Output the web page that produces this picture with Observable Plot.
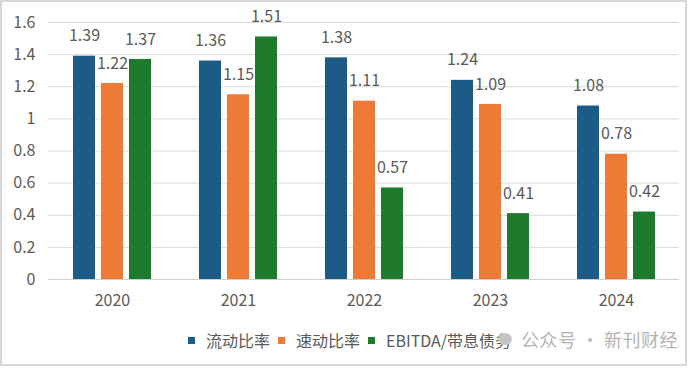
<!DOCTYPE html>
<html>
<head>
<meta charset="utf-8">
<script src="https://cdn.jsdelivr.net/npm/d3@7"></script>
<script src="https://cdn.jsdelivr.net/npm/@observablehq/plot@0.6"></script>
<style>
  html, body { margin: 0; padding: 0; background: #fff; }
  #wrap { position: relative; width: 700px; height: 368px; overflow: hidden; font-family: "Noto Sans CJK SC", "Noto Sans", sans-serif; }
  #frame { position: absolute; left: 0; top: 0; width: 687px; height: 366px; box-sizing: border-box; border: 2px solid #d6d6d6; pointer-events: none; }
  .layer { position: absolute; left: 0; top: 0; }
  #legend { position: absolute; left: 188px; top: 328px; display: flex; align-items: center; font-size: 16px; color: #595959; white-space: nowrap; }
  #legend .sw { width: 7px; height: 7px; display: inline-block; margin-right: 11px; }
  #legend .it { display: flex; align-items: center; margin-right: 8px; }
  #wm { position: absolute; left: 498px; top: 326px; font-size: 18px; letter-spacing: 0.5px; color: #b4b4b4; display: flex; align-items: center; white-space: nowrap; }
  #wm .ic { width: 14px; height: 12px; border-radius: 50%; background: #c4c4c4; display: inline-block; margin-right: 9px; }
</style>
</head>
<body>
<div id="wrap">
  <div id="bg" class="layer"></div>
  <div id="fg" class="layer"></div>
  <div id="legend"></div>
  <div id="wm"><span class="ic"></span>公众号 · 新刊财经</div>
  <div id="frame"></div>
</div>
<script>
const years = ["2020", "2021", "2022", "2023", "2024"];
const seriesNames = ["流动比率", "速动比率", "EBITDA/带息债务"];
const currentRatio = [1.39, 1.36, 1.38, 1.24, 1.08];
const quickRatio = [1.22, 1.15, 1.11, 1.09, 0.78];
const ebitdaDebt = [1.37, 1.51, 0.57, 0.41, 0.42];
const colors = ["#1b5b85", "#ee7a35", "#1e7a2c"];
const yTicks = [0, 0.2, 0.4, 0.6, 0.8, 1.0, 1.2, 1.4, 1.6];

const seriesValues = [currentRatio, quickRatio, ebitdaDebt];
const data = years.flatMap((yr, i) => seriesNames.map((s, j) => ({year: yr, series: s, value: seriesValues[j][i]})));

const common = {
  width: 700, height: 320,
  marginTop: 22, marginBottom: 41, marginLeft: 48, marginRight: 21,
  style: {fontFamily: '"Noto Sans CJK SC", "Noto Sans", sans-serif', fontSize: "16px", color: "#5a5a5a", background: "transparent"}
};

const bg = Plot.plot({
  ...common,
  x: {domain: [0, 1], axis: null},
  y: {domain: [0, 1.6], label: null, axis: null},
  marks: [
    Plot.gridY(yTicks, {stroke: "#d9d9d9", strokeOpacity: 1}),
    Plot.axisY(yTicks, {tickSize: 0, tickPadding: 13, label: null, fill: "#5a5a5a", fontSize: 16, tickFormat: d => String(+d.toFixed(1))}),
    Plot.ruleY([0], {stroke: "#cfcfcf", strokeWidth: 1.2})
  ]
});
document.getElementById("bg").appendChild(bg);

const fg = Plot.plot({
  ...common,
  fx: {domain: years, paddingInner: 0.382, paddingOuter: 0.191, label: null, axis: null},
  x: {domain: seriesNames, paddingInner: 0.22, paddingOuter: 0, axis: null},
  y: {domain: [0, 1.6], axis: null},
  color: {domain: seriesNames, range: colors},
  marks: [
    Plot.axisFx({anchor: "bottom", tickSize: 0, tickPadding: 15, label: null, fill: "#5a5a5a", fontSize: 16}),
    Plot.barY(data, {fx: "year", x: "series", y: "value", fill: "series"}),
    Plot.text(data, {fx: "year", x: "series", y: "value", text: d => d.value.toFixed(2), dy: -20, fill: "#5a5a5a", fontSize: 16})
  ]
});
document.getElementById("fg").appendChild(fg);

const legend = document.getElementById("legend");
seriesNames.forEach((s, i) => {
  const it = document.createElement("span");
  it.className = "it";
  const sw = document.createElement("span");
  sw.className = "sw";
  sw.style.background = colors[i];
  it.appendChild(sw);
  it.appendChild(document.createTextNode(s));
  legend.appendChild(it);
});
</script>
</body>
</html>
